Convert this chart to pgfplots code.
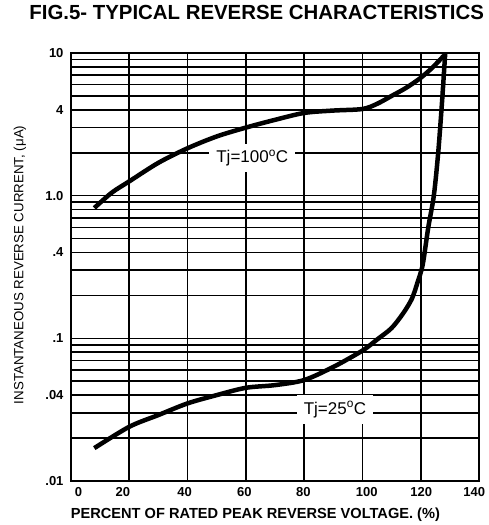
\documentclass[border=0pt]{standalone}
\usepackage{pgfplots}
\pgfplotsset{compat=1.18}
\usepackage{fontspec}
\setmainfont{Liberation Sans}
\begin{document}
\begin{tikzpicture}
\useasboundingbox (-71pt,-44pt) rectangle (417pt,481pt);
\begin{axis}[
  scale only axis, width=408pt, height=428pt,
  xmin=0, xmax=140, ymode=log, ymin=0.01, ymax=10,
  xtick={2.6,17.8,39,59.5,79.7,101.5,120.2,138.4},
  xticklabels={0,20,40,60,80,100,120,140},
  minor xtick={20,40,60,80,100,120},
  ytick={0.01,0.04,0.1,0.4,1,4,10},
  yticklabels={.01,.04,.1,.4,1.0,4,10},
  minor ytick={0.02,0.03,0.05,0.06,0.07,0.08,0.09,0.2,0.3,0.5,0.6,0.7,0.8,0.9,2,3,5,6,7,8,9},
  xmajorgrids=false, xminorgrids=true, ymajorgrids=true, yminorgrids=true,
  major grid style={black, line width=1.6pt},
  minor grid style={black, line width=1.6pt},
  axis line style={line width=2.6pt},
  major tick length=0pt, minor tick length=0pt,
  tick label style={font=\bfseries\fontsize{13}{15}\selectfont},
  xticklabel style={anchor=base, yshift=-15pt},
  yticklabel style={anchor=east, xshift=-4pt},
  title={FIG.5- TYPICAL REVERSE CHARACTERISTICS},
  title style={at={(0.455,1)}, anchor=base, yshift=27pt, font=\bfseries\fontsize{20.4}{23}\selectfont},
  xlabel={PERCENT OF RATED PEAK REVERSE VOLTAGE. (\%)},
  xlabel style={at={(axis description cs:0.452,0)}, anchor=base, yshift=-37pt, font=\bfseries\fontsize{14.6}{16}\selectfont},
  ylabel={INSTANTANEOUS REVERSE CURRENT, (μA)},
  ylabel style={at={(axis description cs:0,0.505)}, anchor=center, yshift=51pt, font=\fontsize{13.3}{15}\selectfont},
]
\addplot[black, line width=4.5pt, smooth, tension=0.5] coordinates {
(8,0.82) (14,1.05) (20,1.26) (30,1.7) (40,2.15) (50,2.6) (60,3.0) (70,3.4) (80,3.8) (90,3.95) (100,4.05) (105,4.4) (110,5.0) (115,5.7) (120,6.7) (124,7.9) (128,9.6)
};
\addplot[black, line width=4.5pt, smooth, tension=0.5] coordinates {
(8,0.017) (20,0.024) (30,0.029) (40,0.035) (50,0.040) (60,0.045) (70,0.047) (80,0.051) (90,0.063) (100,0.082) (105,0.098) (110,0.118) (114,0.15) (117,0.19) (119,0.25) (120.7,0.33) (122.6,0.6) (124.5,1.0) (126,2.0) (127.3,4.5) (128.4,9.9)
};
\node[fill=white, inner xsep=7pt, inner ysep=6pt, font=\fontsize{17}{19}\selectfont] at (axis cs:62.2,1.83) {Tj=100\textsuperscript{o}C};
\node[fill=white, inner xsep=7pt, inner ysep=6pt, font=\fontsize{17}{19}\selectfont] at (axis cs:90.6,0.0317) {Tj=25\textsuperscript{o}C};
\end{axis}
\end{tikzpicture}
\end{document}
